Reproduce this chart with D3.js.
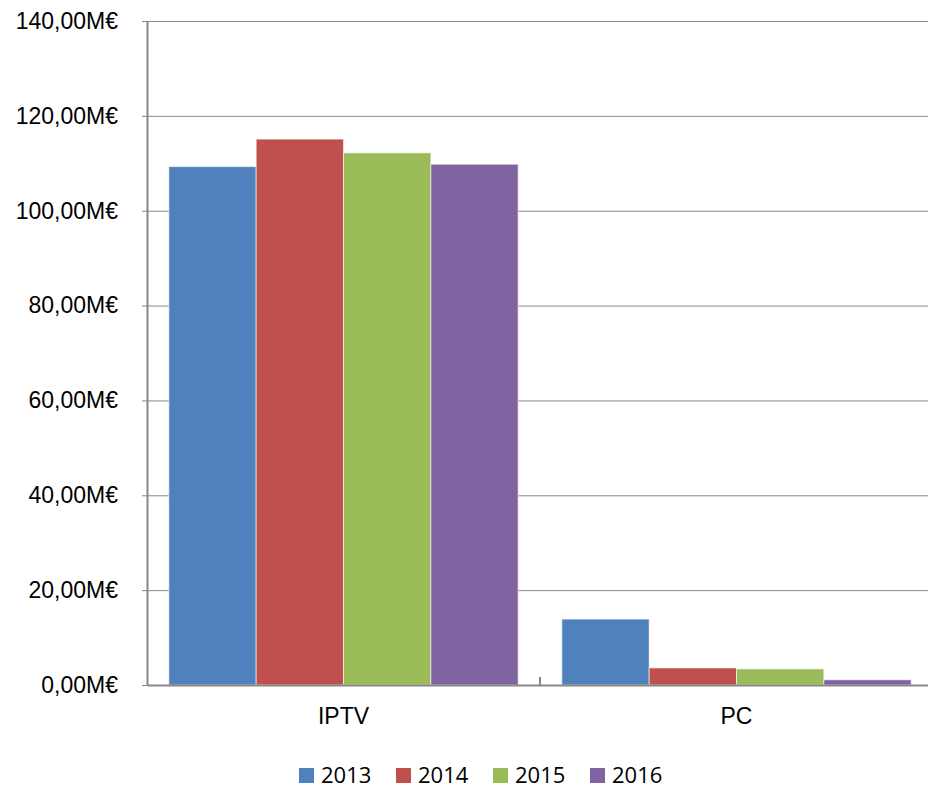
<!DOCTYPE html>
<html>
<head>
<meta charset="utf-8">
<script src="https://cdn.jsdelivr.net/npm/d3@7"></script>
<style>
  body { margin: 0; background: #fff; }
  svg { display: block; font-family: "Open Sans", "Noto Sans", sans-serif; }
  .grid line { stroke: #888; stroke-width: 1; }
  .axis path, .axis line { stroke: #888; }
  .axis text { font-size: 23px; fill: #000; }
  .legend text { font-size: 22px; fill: #000; }
</style>
</head>
<body>
<div id="chart"></div>
<script>
var categories = ["IPTV", "PC"];
var years = ["2013", "2014", "2015", "2016"];
var colors = ["#4F81BD", "#C0504D", "#9BBB59", "#8064A2"];
var values2013 = [109.3, 13.9];
var values2014 = [115.1, 3.6];
var values2015 = [112.2, 3.4];
var values2016 = [109.8, 1.1];
var yTicks = [0, 20, 40, 60, 80, 100, 120, 140];

var series = [values2013, values2014, values2015, values2016];

var width = 928, height = 788;
var margin = {top: 21, right: -5, bottom: 103, left: 147};
var w = width - margin.left - margin.right,
    h = height - margin.top - margin.bottom;

var svg = d3.select("#chart").append("svg")
    .attr("width", width)
    .attr("height", height);

var g = svg.append("g")
    .attr("transform", "translate(" + margin.left + "," + margin.top + ")");

var x0 = d3.scaleBand().domain(categories).range([0, w]).paddingInner(0).paddingOuter(0);
var x1 = d3.scaleBand().domain(years)
    .range([x0.bandwidth() * 0.25 / 4.5, x0.bandwidth() - x0.bandwidth() * 0.25 / 4.5]);
var y = d3.scaleLinear().domain([0, 140]).range([h, 0]);

var fmt = function (d) { return d3.format(".2f")(d).replace(".", ",") + "M€"; };

// gridlines
g.append("g")
    .attr("class", "grid")
    .selectAll("line")
    .data(yTicks.filter(function (d) { return d > 0; }))
    .enter().append("line")
    .attr("x1", 0).attr("x2", w)
    .attr("y1", function (d) { return y(d) + 0.5; })
    .attr("y2", function (d) { return y(d) + 0.5; });

// bars
series.forEach(function (vals, i) {
    g.append("g").selectAll("rect")
        .data(vals)
        .enter().append("rect")
        .attr("x", function (d, j) { return x0(categories[j]) + x1(years[i]); })
        .attr("y", function (d) { return y(d); })
        .attr("width", x1.bandwidth())
        .attr("height", function (d) { return h - y(d); })
        .attr("fill", colors[i])
        .attr("stroke", "rgba(255,255,255,0.6)")
        .attr("stroke-width", 1);
});

// y axis
var yAxis = g.append("g")
    .attr("class", "axis")
    .call(d3.axisLeft(y).tickValues(yTicks).tickFormat(fmt).tickSizeInner(5).tickSizeOuter(0).tickPadding(24));
yAxis.select(".domain").attr("stroke-width", 2);

// x axis
var xAxis = g.append("g")
    .attr("class", "axis")
    .attr("transform", "translate(0," + h + ")")
    .call(d3.axisBottom(x0).tickSize(0).tickPadding(23));
xAxis.select(".domain").attr("stroke-width", 2);
xAxis.selectAll(".tick text").attr("dy", "0.71em");

// category separator tick
g.append("line")
    .attr("x1", x0("PC")).attr("x2", x0("PC"))
    .attr("y1", h - 8).attr("y2", h)
    .attr("stroke", "#888").attr("stroke-width", 2);

// legend
var legend = svg.append("g").attr("class", "legend")
    .attr("transform", "translate(299,768)");
var item = legend.selectAll("g")
    .data(years)
    .enter().append("g")
    .attr("transform", function (d, i) { return "translate(" + (i * 97) + ",0)"; });
item.append("rect")
    .attr("width", 15).attr("height", 15)
    .attr("fill", function (d, i) { return colors[i]; });
item.append("text")
    .attr("x", 22).attr("y", 15)
    .text(function (d) { return d; });
</script>
</body>
</html>
